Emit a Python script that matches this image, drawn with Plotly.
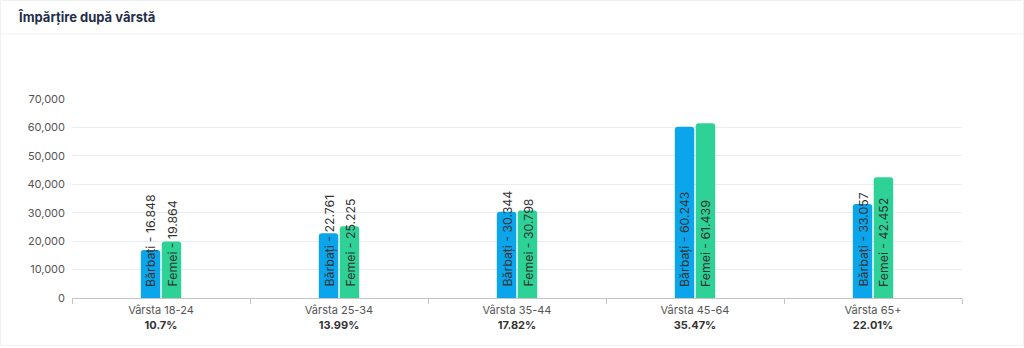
import plotly.graph_objects as go

# Age groups and their share of the total
categories = ["Vârsta 18-24", "Vârsta 25-34", "Vârsta 35-44", "Vârsta 45-64", "Vârsta 65+"]
shares = ["10.7%", "13.99%", "17.82%", "35.47%", "22.01%"]

# Counts per age group
barbati = [16848, 22761, 30344, 60243, 33057]
femei = [19864, 25225, 30798, 61439, 42452]

y_ticks = [0, 10000, 20000, 30000, 40000, 50000, 60000, 70000]

BLUE = "#0ba5ec"
GREEN = "#2ed296"
FONT = "Inter, Roboto, Arial, sans-serif"

W, H = 1024, 348
M_L, M_R, M_T, M_B = 72, 62, 99, 50
plot_h = H - M_T - M_B
plot_w = W - M_L - M_R

tick_text = [f"{c}<br><b style='color:#333'>{s}</b>" for c, s in zip(categories, shares)]


def ro_num(v):
    return f"{v:,}".replace(",", ".")


fig = go.Figure()
fig.add_bar(x=categories, y=barbati, name="Bărbați",
            marker=dict(color=BLUE, cornerradius=3, line=dict(width=0)))
fig.add_bar(x=categories, y=femei, name="Femei",
            marker=dict(color=GREEN, cornerradius=3, line=dict(width=0)))

# Rotated value labels starting near the base of each bar
annotations = []
for i, cat in enumerate(categories):
    for shift, label, val in ((-10.5, "Bărbați", barbati[i]), (10.5, "Femei", femei[i])):
        annotations.append(dict(
            x=cat, y=0, xref="x", yref="y", xshift=shift, yshift=9,
            text=f"{label} - {ro_num(val)}", textangle=-90,
            showarrow=False, xanchor="center", yanchor="bottom",
            font=dict(family=FONT, size=12.3, color="#333333"),
        ))

# Card title
annotations.append(dict(
    x=-(M_L - 16) / plot_w, y=(H - M_B - 17) / plot_h, xref="paper", yref="paper",
    text="<b>Împărțire după vârstă</b>", showarrow=False,
    xanchor="left", yanchor="middle",
    font=dict(family=FONT, size=13, color="#252f4a"),
))

shapes = [
    # header divider
    dict(type="line", xref="paper", yref="paper",
         x0=-M_L / plot_w, x1=(W - M_L) / plot_w,
         y0=(H - M_B - 34) / plot_h, y1=(H - M_B - 34) / plot_h,
         line=dict(color="#eef0f3", width=1)),
    # card outline
    dict(type="rect", xref="paper", yref="paper",
         x0=-(M_L - 0.5) / plot_w, x1=(W - M_L - 0.5) / plot_w,
         y0=-(M_B - 2.5) / plot_h, y1=(H - M_B - 0.5) / plot_h,
         line=dict(color="#eef0f2", width=1), layer="below"),
]

fig.update_layout(
    width=W, height=H,
    margin=dict(l=M_L, r=M_R, t=M_T, b=M_B, pad=0),
    paper_bgcolor="white", plot_bgcolor="white",
    barmode="group", bargap=0.765, bargroupgap=0.07,
    showlegend=False,
    font=dict(family=FONT, size=11, color="#555555"),
    annotations=annotations, shapes=shapes,
    xaxis=dict(
        tickmode="array", tickvals=categories, ticktext=tick_text,
        tickson="boundaries", ticks="outside", ticklen=5, tickcolor="#c4c4c4",
        showline=True, linecolor="#c4c4c4", linewidth=1,
        ticklabelstandoff=2,
        showgrid=False, tickfont=dict(family=FONT, size=11, color="#555555"),
        fixedrange=True,
    ),
    yaxis=dict(
        range=[0, 70000], tickvals=y_ticks, tickformat=",d",
        showgrid=True, gridcolor="#e9eef5", gridwidth=1,
        zeroline=False, showline=False, ticks="",
        ticklabelstandoff=6,
        tickfont=dict(family=FONT, size=11, color="#555555"),
        fixedrange=True,
    ),
)

fig.write_html("out.html")
